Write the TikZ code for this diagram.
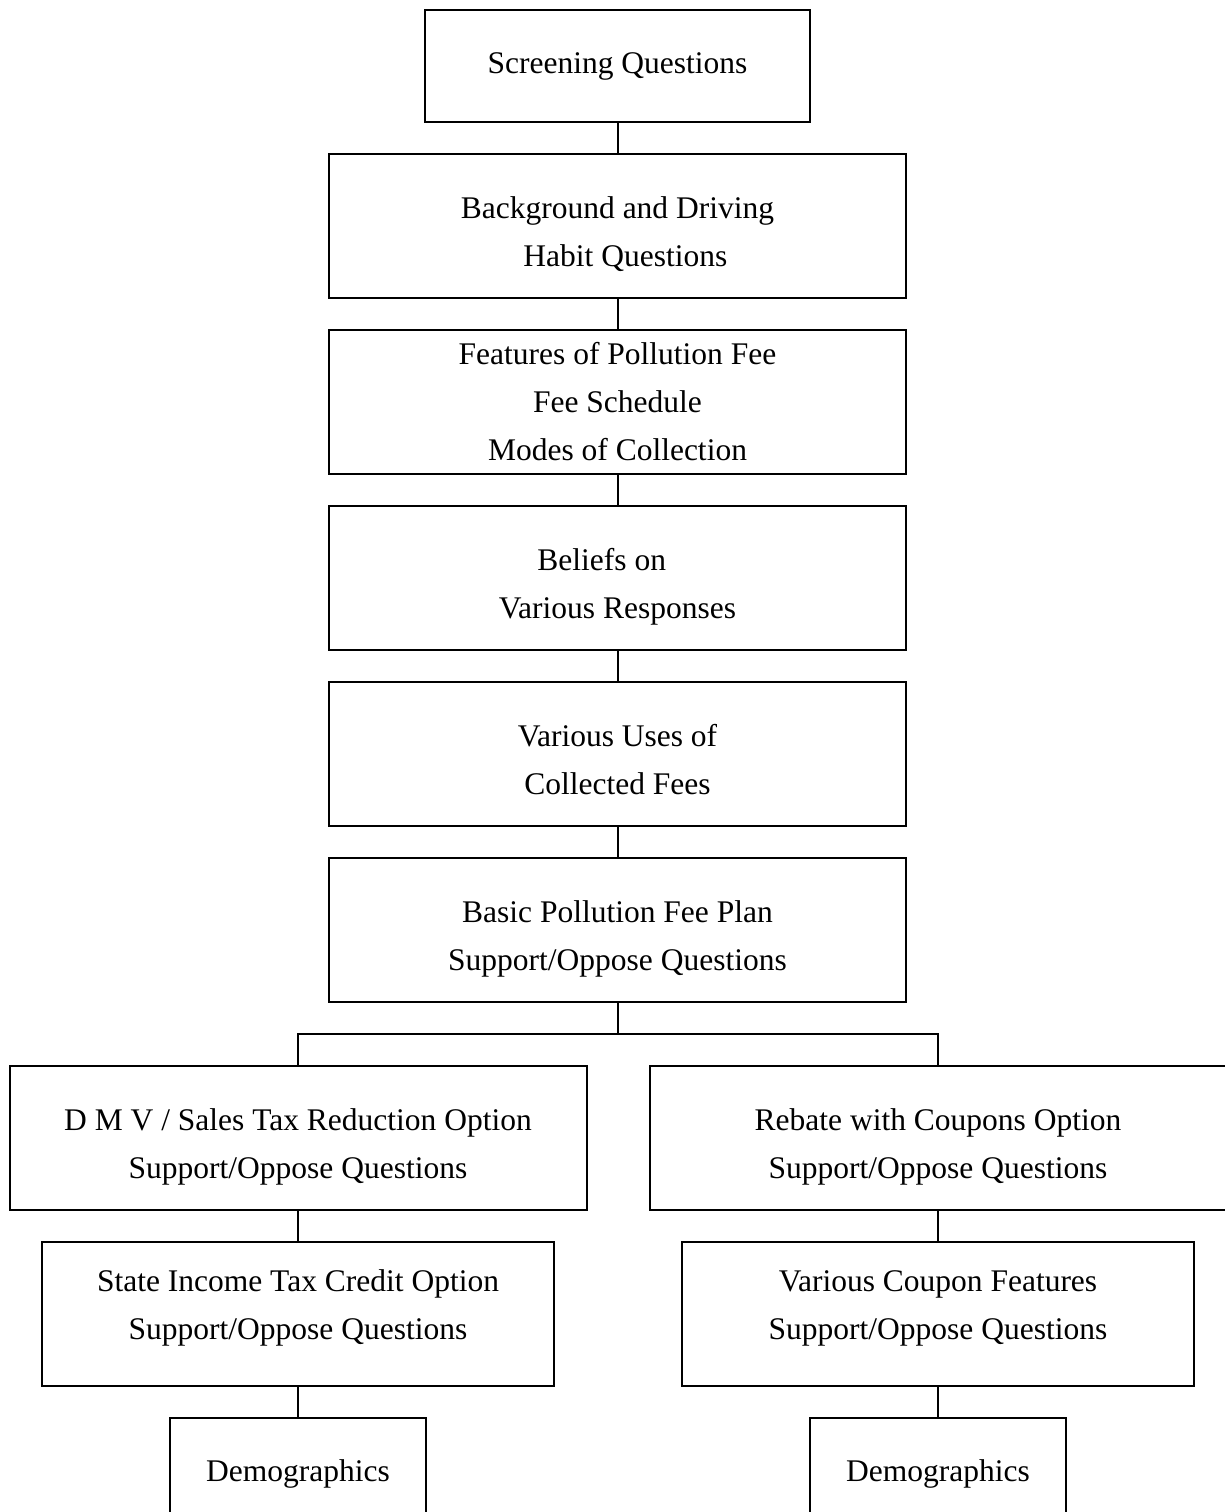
\documentclass[tikz,border=0pt]{standalone}
\usepackage{fontspec}
\setmainfont{Liberation Serif}
\tikzset{
  box/.style={draw, line width=1pt, rectangle, align=center, inner sep=0pt,
    font=\fontsize{15.75}{24}\selectfont},
  wide/.style={box, minimum width=288.5pt, minimum height=72pt},
  twoline/.style={text height=40pt, text depth=0pt},
  highline/.style={text height=25pt, text depth=0pt},
  link/.style={line width=1pt}
}
\begin{document}
\begin{tikzpicture}[x=0.5pt,y=-0.5pt]
\useasboundingbox (0,0) rectangle (1225,1512);
\clip (0,0) rectangle (1225,1512);
\fill[white] (0,0) rectangle (1225,1512);
\node[box, minimum width=192.5pt, minimum height=56pt] (scr) at (617.5,66) {Screening Questions};
\node[wide, twoline] (bg) at (617.5,226) {Background and Driving\\ \hspace*{0.5em}Habit Questions};
\node[wide] (feat) at (617.5,402) {Features of Pollution Fee\\Fee Schedule\\Modes of Collection};
\node[wide, twoline] (bel) at (617.5,578) {Beliefs on\hspace*{1em}\\Various Responses};
\node[wide, twoline] (uses) at (617.5,754) {Various Uses of\\Collected Fees};
\node[wide, twoline] (basic) at (617.5,930) {Basic Pollution Fee Plan\\Support/Oppose Questions};
\node[wide, twoline] (dmv) at (298,1138) {D M V / Sales Tax Reduction Option\\Support/Oppose Questions};
\node[wide, twoline] (reb) at (938,1138) {Rebate with Coupons Option\\Support/Oppose Questions};
\node[box, highline, minimum width=256pt, minimum height=72pt] (sit) at (298,1314) {State Income Tax Credit Option\\Support/Oppose Questions};
\node[box, highline, minimum width=256pt, minimum height=72pt] (vcf) at (938,1314) {Various Coupon Features\\Support/Oppose Questions};
\node[box, minimum width=128pt, minimum height=56pt] (demL) at (298,1474) {Demographics};
\node[box, minimum width=128pt, minimum height=56pt] (demR) at (938,1474) {Demographics};
\draw[link] (scr) -- (bg);
\draw[link] (bg) -- (feat);
\draw[link] (feat) -- (bel);
\draw[link] (bel) -- (uses);
\draw[link] (uses) -- (basic);
\coordinate (split) at (617.5,1034);
\draw[link] (basic.south) -- (split);
\draw[link] (split) -| (dmv.north);
\draw[link] (split) -| (reb.north);
\draw[link] (dmv) -- (sit);
\draw[link] (reb) -- (vcf);
\draw[link] (sit) -- (demL);
\draw[link] (vcf) -- (demR);
\end{tikzpicture}
\end{document}
